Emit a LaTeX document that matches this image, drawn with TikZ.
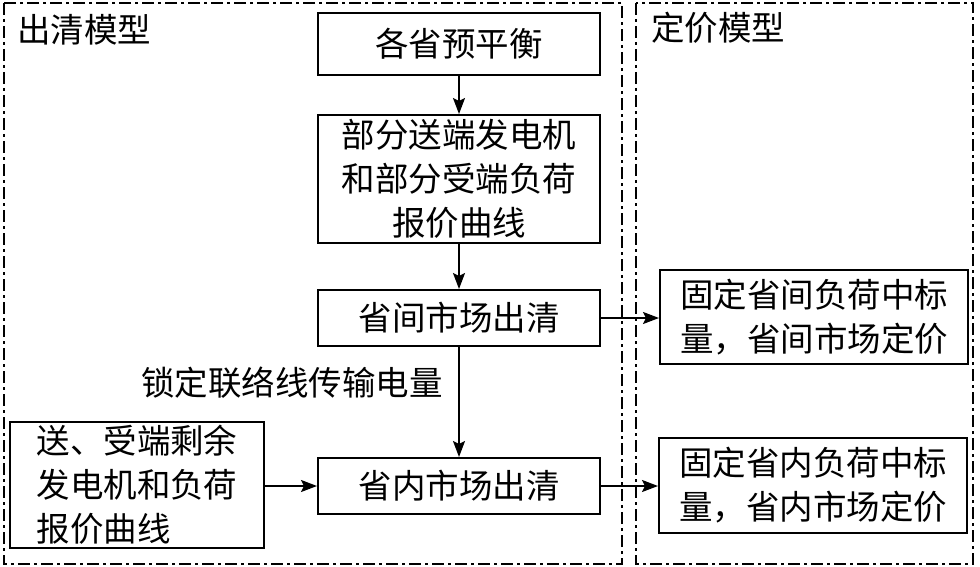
\documentclass[tikz,border=0pt]{standalone}
\usepackage{fontspec}
\setmainfont{Noto Sans CJK SC}
\usetikzlibrary{arrows.meta}
\begin{document}
\begin{tikzpicture}[x=1pt,y=-1pt,
  every node/.style={font=\fontsize{33.5}{44}\selectfont},
  box/.style={draw,line width=2pt,inner sep=0pt,align=center},
  frame/.style={draw,line width=2pt,dash pattern=on 12pt off 4pt on 3pt off 4pt},
  arr/.style={line width=2pt,-{Stealth[length=16pt,width=12pt,inset=3pt]}}]
\useasboundingbox (0,0) rectangle (980,567);
\draw[frame] (4,3) rectangle (622,564);
\draw[frame] (636,3) rectangle (973,564);
\node (t1) at (84,30) {出清模型};
\node (t2) at (718,28) {定价模型};
\node[box,minimum width=282pt,minimum height=62pt] (b1) at (459,44) {各省预平衡};
\node[box,minimum width=282pt,minimum height=128pt] (b2) at (459,179) {部分送端发电机\\和部分受端负荷\\报价曲线};
\node[box,minimum width=282pt,minimum height=56pt] (b3) at (459,318) {省间市场出清};
\node[box,minimum width=282pt,minimum height=56pt] (b4) at (459,486) {省内市场出清};
\node[box,minimum width=254pt,minimum height=126pt,align=left] (l1) at (137,485) {送、受端剩余\\发电机和负荷\\报价曲线};
\node[box,minimum width=308pt,minimum height=94pt] (r1) at (814,317) {固定省间负荷中标\\量，省间市场定价};
\node[box,minimum width=308pt,minimum height=95pt] (r2) at (813,485) {固定省内负荷中标\\量，省内市场定价};
\node (lab) at (292,383) {锁定联络线传输电量};
\draw[arr] (b1) -- (b2);
\draw[arr] (b2) -- (b3);
\draw[arr] (b3) -- (b4);
\draw[arr] (l1.east |- b4) -- (b4);
\draw[arr] (b3.east) -- (r1.west |- b3.east);
\draw[arr] (b4.east) -- (r2.west |- b4.east);
\end{tikzpicture}
\end{document}
